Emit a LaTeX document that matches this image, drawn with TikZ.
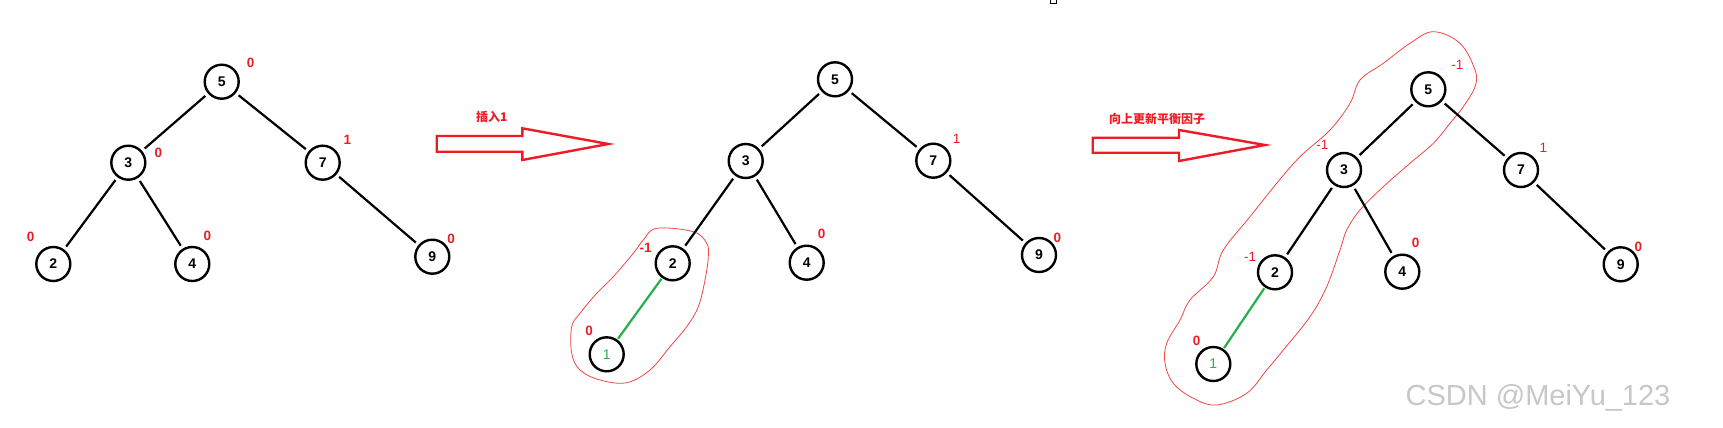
\documentclass[tikz,border=0pt]{standalone}
\usepackage{fontspec}
\setmainfont{Liberation Sans}
\newfontfamily\cjk{Noto Sans CJK SC}
\definecolor{pred}{RGB}{237,28,36}
\definecolor{lred}{RGB}{240,70,70}
\definecolor{pgreen}{RGB}{34,177,76}
\begin{document}
\begin{tikzpicture}[x=1pt,y=-1pt,
  nd/.style={circle,draw,line width=2.4pt,minimum size=34pt,inner sep=0pt,font=\bfseries\fontsize{14}{14}\selectfont},
  newnd/.style={nd,text=pgreen,font=\fontsize{14}{14}\selectfont},
  bf/.style={text=pred,inner sep=0pt,font=\bfseries\fontsize{13.5}{13.5}\selectfont},
  rf/.style={text=pred,inner sep=0pt,font=\fontsize{13.5}{13.5}\selectfont},
  edge/.style={line width=2.2pt,shorten <=3.5pt,shorten >=3.5pt},
  gedge/.style={line width=2.2pt,draw=pgreen,shorten <=1pt,shorten >=1pt},
  bigarrow/.style={draw=pred,line width=2.4pt,line join=miter},
  blob/.style={draw=lred,line width=0.8pt},
  cjklabel/.style={text=pred,inner sep=0pt,font=\cjk\bfseries\fontsize{12}{12}\selectfont}]
\useasboundingbox (0,0) rectangle (1723,428);
% tiny artifact at top
\draw[line width=0.8pt] (1050,-1) rectangle (1056,3);
% ---------- Tree 1 ----------
\node[nd] (a5) at (221.7,81.7) {5};
\node[nd] (a3) at (128.3,162.7) {3};
\node[nd] (a7) at (322.7,162.7) {7};
\node[nd] (a2) at (53.3,264) {2};
\node[nd] (a4) at (192.3,264) {4};
\node[nd] (a9) at (432.3,256.7) {9};
\draw[edge] (a5) -- (a3);
\draw[edge] (a5) -- (a7);
\draw[edge] (a3) -- (a2);
\draw[edge] (a3) -- (a4);
\draw[edge] (a7) -- (a9);
\node[bf] (la5) at (250.7,63.3) {0};
\node[bf] (la3) at (158.3,153.3) {0};
\node[bf] (la7) at (347.3,140) {1};
\node[bf] (la2) at (30.7,236.7) {0};
\node[bf] (la4) at (207.3,236) {0};
\node[bf] (la9) at (451,239) {0};
% ---------- Arrow 1 ----------
\coordinate (p1a) at (436.7,136);
\coordinate (p1b) at (522.3,136);
\coordinate (p1c) at (522.3,128.3);
\coordinate (p1d) at (608.3,144);
\coordinate (p1e) at (522.3,160);
\coordinate (p1f) at (522.3,151.7);
\coordinate (p1g) at (436.7,151.7);
\draw[bigarrow] (p1a) -- (p1b) -- (p1c) -- (p1d) -- (p1e) -- (p1f) -- (p1g) -- cycle;
\node[cjklabel] (t1) at (491.7,117.3) {插入1};
% ---------- Tree 2 ----------
\draw[blob] plot[smooth cycle,tension=0.6] coordinates {
 (656.7,228.3) (693.3,231.7) (706.7,243.3) (708.3,256.7) (705,280) (698.3,306.7)
 (686.7,326.7) (670,346.7) (650,370) (626.7,382.7) (600,380) (580,370)
 (571.7,353.3) (571.7,326.7) (580,313.3) (596.7,293.3) (613.3,276.7)
 (633.3,253.3) (643.3,240)};
\node[nd] (b5) at (835,79.3) {5};
\node[nd] (b3) at (745.7,161) {3};
\node[nd] (b7) at (933.3,160.7) {7};
\node[nd] (b2) at (672.7,263.3) {2};
\node[nd] (b4) at (806.7,262.7) {4};
\node[nd] (b9) at (1039,255) {9};
\node[newnd] (b1) at (606.7,354.3) {1};
\draw[edge] (b5) -- (b3);
\draw[edge] (b5) -- (b7);
\draw[edge] (b3) -- (b2);
\draw[edge] (b3) -- (b4);
\draw[edge] (b7) -- (b9);
\draw[gedge] (b2) -- (b1);
\node[rf] (lb7) at (956.7,139) {1};
\node[bf] (lb4) at (821.7,234.3) {0};
\node[bf] (lb9) at (1057.3,237.7) {0};
\node[bf] (lb2) at (645.7,248.3) {-1};
\node[bf] (lb1) at (589,331) {0};
% ---------- Arrow 2 ----------
\coordinate (p2a) at (1092.7,137.7);
\coordinate (p2b) at (1179,137.7);
\coordinate (p2c) at (1179,130);
\coordinate (p2d) at (1265,145);
\coordinate (p2e) at (1179,161);
\coordinate (p2f) at (1179,152.7);
\coordinate (p2g) at (1092.7,152.7);
\draw[bigarrow] (p2a) -- (p2b) -- (p2c) -- (p2d) -- (p2e) -- (p2f) -- (p2g) -- cycle;
\node[cjklabel] (t2) at (1157,119.3) {向上更新平衡因子};
% ---------- Tree 3 ----------
\draw[blob] plot[smooth cycle,tension=0.6] coordinates {
 (1433.3,31.7) (1460,43.3) (1475,70) (1475,86.7) (1463.3,106.7) (1450,123.3)
 (1433.3,143.3) (1410,163.3) (1383.3,186.7) (1360,210) (1346.7,230) (1340,250)
 (1326.7,286.7) (1310,316.7) (1283.3,350) (1266.7,370) (1246.7,393.3)
 (1216.7,405) (1193.3,398.3) (1173.3,383.3) (1165,363.3) (1166.7,343.3)
 (1180,320) (1190,300) (1213.3,276.7) (1223.3,250) (1250,216.7) (1276.7,183.3)
 (1300,156.7) (1330,130) (1350,103.3) (1360,80) (1383.3,63.3) (1410,43.3)};
\node[nd] (c5) at (1428.3,89.3) {5};
\node[nd] (c3) at (1344,170) {3};
\node[nd] (c7) at (1521,170) {7};
\node[nd] (c2) at (1275,272.3) {2};
\node[nd] (c4) at (1402.3,271.7) {4};
\node[nd] (c9) at (1620.7,264.3) {9};
\node[newnd] (c1) at (1213.3,364) {1};
\draw[edge] (c5) -- (c3);
\draw[edge] (c5) -- (c7);
\draw[edge] (c3) -- (c2);
\draw[edge] (c3) -- (c4);
\draw[edge] (c7) -- (c9);
\draw[gedge] (c2) -- (c1);
\node[rf] (lc5) at (1457.3,65) {-1};
\node[rf] (lc3) at (1322.3,145) {-1};
\node[rf] (lc7) at (1543.3,147.7) {1};
\node[rf] (lc2) at (1250,256.7) {-1};
\node[bf] (lc4) at (1415.7,243.3) {0};
\node[bf] (lc9) at (1638.3,246.7) {0};
\node[bf] (lc1) at (1196.7,340.7) {0};
% ---------- Watermark ----------
\node[text=black!22,inner sep=0pt,font=\fontsize{29}{29}\selectfont] (wm) at (1538,397.5) {CSDN @MeiYu\_123};
\end{tikzpicture}
\end{document}
